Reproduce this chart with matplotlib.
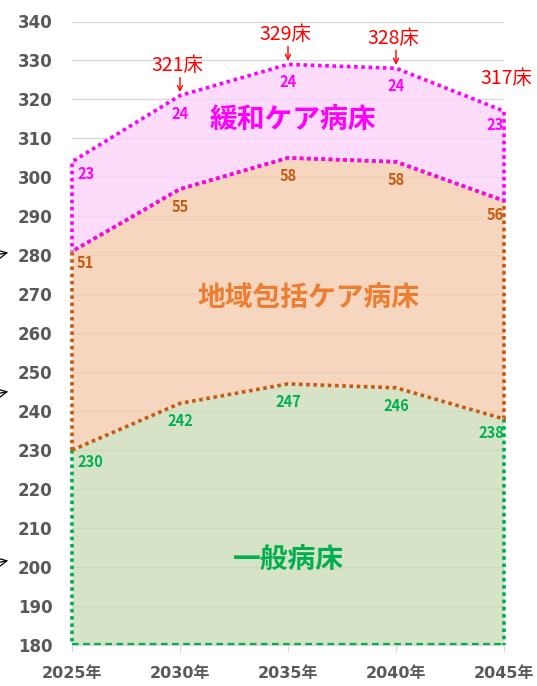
import numpy as np
import matplotlib.pyplot as plt
from matplotlib.patches import FancyArrowPatch

# data
years = ["2025年", "2030年", "2035年", "2040年", "2045年"]
general = [230, 242, 247, 246, 238]      # 一般病床
community = [51, 55, 58, 58, 56]         # 地域包括ケア病床
palliative = [23, 24, 24, 24, 23]        # 緩和ケア病床
total_labels = [None, "321床", "329床", "328床", "317床"]
series_names = ["一般病床", "地域包括ケア病床", "緩和ケア病床"]

CJK = ["Noto Sans CJK JP", "DejaVu Sans"]
NUM = ["DejaVu Sans", "Noto Sans CJK JP"]

x = np.arange(len(years))
base = 180
g = np.array(general)
o = g + np.array(community)
p = o + np.array(palliative)

fig = plt.figure(figsize=(5.37, 6.86), dpi=100)
ax = fig.add_axes([72/537, 1 - 645/686, 432/537, 623.5/686])
ax.set_xlim(0, 4)
ax.set_ylim(180, 340)

# fills (a bit transparent so the grid shows through)
ax.fill_between(x, base, g, color="#CCDCB8", alpha=0.8, lw=0, zorder=2)
ax.fill_between(x, g, o, color="#F6CCB0", alpha=0.8, lw=0, zorder=2)
ax.fill_between(x, o, p, color="#FCD3FB", alpha=0.8, lw=0, zorder=2)

dot = (0, (1, 1))
lw = 2.6
# green outline: left, bottom, right
ax.plot([0, 0], [g[0], base], color="#00B050", lw=lw, ls=dot, zorder=3, clip_on=False)
ax.plot([4, 4], [g[-1], base], color="#00B050", lw=lw, ls=dot, zorder=3, clip_on=False)
ax.plot([0, 4], [base + 0.15, base + 0.15], color="#00B050", lw=1.6, ls=(0, (3, 2)),
        zorder=3, clip_on=False)

# orange outline
ox = np.concatenate([x, x[::-1], [0]])
oy = np.concatenate([g, o[::-1], [g[0]]])
ax.plot(ox, oy, color="#C55A11", lw=lw, ls=dot, zorder=4, dash_capstyle="butt", clip_on=False)

# pink outline (phase shifted so it alternates with orange)
px = np.concatenate([x, x[::-1], [0]])
py = np.concatenate([o, p[::-1], [o[0]]])
ax.plot(px, py, color="#FF00FF", lw=lw, ls=(1, (1, 1)), zorder=5, dash_capstyle="butt",
        clip_on=False)

# value labels
def put_labels(vals, tops, color):
    for i, (v, t) in enumerate(zip(vals, tops)):
        if i == 0:
            ha, dx, dy = "left", 5, -12
        elif i == len(vals) - 1:
            ha, dx, dy = "right", 0, -14
        else:
            ha, dx, dy = "center", 0, -18
        ax.annotate(str(v), (i, t), xytext=(dx, dy), textcoords="offset pixels",
                    ha=ha, va="center", color=color, fontsize=10.5,
                    fontweight="bold", family=CJK, zorder=6)

put_labels(general, g, "#00B050")
put_labels(community, o, "#C55A11")
put_labels(palliative, p, "#FF00FF")

# totals in red with arrows
for i, lab in enumerate(total_labels):
    if lab is None:
        continue
    last = i == len(total_labels) - 1
    ax.annotate(lab, (i, p[i]), xytext=(2, 33) if last else (-3, 30),
                textcoords="offset pixels", ha="center", va="center",
                color="#FF0000", fontsize=14, family=CJK, annotation_clip=False)
    if not last:
        ax.annotate("", xy=(i, p[i]), xytext=(0, 18), textcoords="offset pixels",
                    arrowprops=dict(arrowstyle="->", color="#FF0000", lw=1.0,
                                    shrinkA=0, shrinkB=2.5, mutation_scale=9),
                    annotation_clip=False)

# series names
ax.text(2.05, 314.5, series_names[2], ha="center", va="center", fontsize=20,
        fontweight="bold", color="#FF00FF", family=CJK, zorder=6)
ax.text(2.19, 269, series_names[1], ha="center", va="center", fontsize=20,
        fontweight="bold", color="#ED7D31", family=CJK, zorder=6)
ax.text(2.0, 201.5, series_names[0], ha="center", va="center", fontsize=20,
        fontweight="bold", color="#00B050", family=CJK, zorder=6)

# axes styling
ax.set_yticks(np.arange(180, 341, 10))
ax.set_xticks(x)
ax.set_xticklabels(years)
ax.grid(axis="y", color="#D9D9D9", lw=1.0, zorder=1)
ax.set_axisbelow(True)
for s in ["top", "right", "left"]:
    ax.spines[s].set_visible(False)
ax.spines["bottom"].set_color("#D9D9D9")
ax.tick_params(axis="y", length=0, pad=14, labelsize=12, labelcolor="#595959")
ax.tick_params(axis="x", length=5, color="#D9D9D9", pad=10, labelsize=11.5,
               labelcolor="#595959")
for t in ax.get_yticklabels() + ax.get_xticklabels():
    t.set_fontweight("bold")
    t.set_family(NUM)

# little arrow tips cut off at the left edge
for yy in [252, 391, 560]:
    yf = 1 - yy / 686
    fig.add_artist(FancyArrowPatch((-30 / 537, yf - 8 / 686), (11 / 537, yf),
                                   transform=fig.transFigure, arrowstyle="->",
                                   color="black", lw=0.9, mutation_scale=14))

plt.savefig("out.png", dpi=100)
